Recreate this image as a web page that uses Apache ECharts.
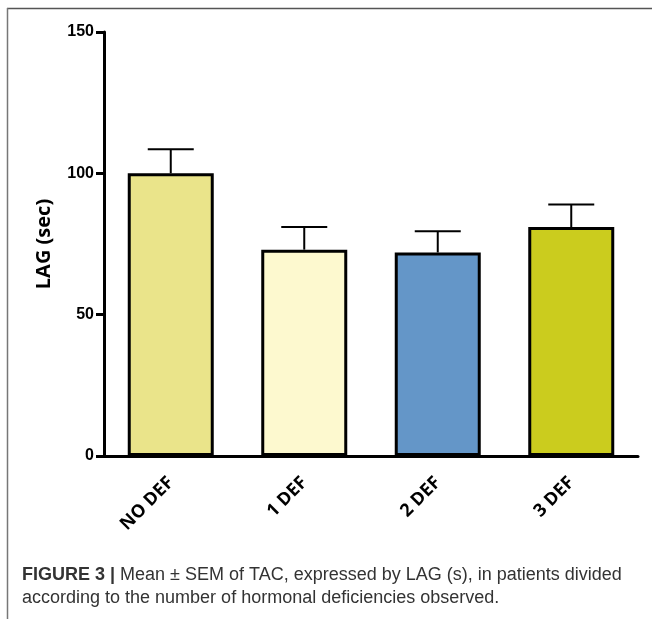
<!DOCTYPE html>
<html>
<head>
<meta charset="utf-8">
<script src="https://cdn.jsdelivr.net/npm/echarts@6/dist/echarts.min.js"></script>
<style>html,body{margin:0;padding:0;background:#fff}#c{width:652px;height:619px}</style>
</head>
<body>
<div id="c"></div>
<script>
var categories = ['NO DEF', '1 DEF', '2 DEF', '3 DEF'];
var means = [100, 73, 72, 81];
var sems = [8.5, 8, 7.5, 8];
var barColors = ['#EAE48A', '#FDF9CF', '#6496C8', '#CBCC1E'];
var yTicks = [0, 50, 100, 150];

var chart = echarts.init(document.getElementById('c'));
chart.setOption({
  animation: false,
  grid: { left: 104, right: 14, top: 32, bottom: 163, containLabel: false },
  xAxis: {
    type: 'category',
    data: categories,
    axisLine: { lineStyle: { color: '#000', width: 3 } },
    axisTick: { alignWithLabel: true, length: 7, lineStyle: { color: '#000', width: 3 } },
    axisLabel: { rotate: 45, margin: 24, color: '#000', fontFamily: 'Open Sans', fontWeight: 'bold', fontSize: 18 },
    splitLine: { show: false }
  },
  yAxis: {
    type: 'value',
    min: yTicks[0], max: yTicks[yTicks.length - 1], interval: 50,
    name: 'LAG (sec)',
    nameLocation: 'middle',
    nameGap: 50,
    nameTextStyle: { color: '#000', fontFamily: 'Open Sans', fontWeight: 'bold', fontSize: 20 },
    axisLine: { show: true, lineStyle: { color: '#000', width: 3 } },
    axisTick: { show: true, length: 8, lineStyle: { color: '#000', width: 3 } },
    axisLabel: { color: '#000', fontFamily: 'Liberation Sans', fontWeight: 'bold', fontSize: 16, margin: 10 },
    splitLine: { show: false }
  },
  series: [
    {
      type: 'bar',
      barWidth: 86,
      data: means.map(function (v, i) {
        return { value: v, itemStyle: { color: barColors[i], borderColor: '#000', borderWidth: 3 } };
      }),
      z: 2
    },
    {
      type: 'custom',
      z: 3,
      data: means.map(function (v, i) { return [i, v, v + sems[i]]; }),
      renderItem: function (params, api) {
        var x = api.value(0);
        var p0 = api.coord([x, api.value(1)]);
        var p1 = api.coord([x, api.value(2)]);
        var hw = 23;
        var st = { stroke: '#000', lineWidth: 2 };
        return {
          type: 'group',
          children: [
            { type: 'line', shape: { x1: p0[0], y1: p0[1], x2: p1[0], y2: p1[1] }, style: st },
            { type: 'line', shape: { x1: p1[0] - hw, y1: p1[1], x2: p1[0] + hw, y2: p1[1] }, style: st }
          ]
        };
      }
    }
  ],
  graphic: [
    { type: 'line', shape: { x1: 7, y1: 8.5, x2: 652, y2: 8.5 }, style: { stroke: '#555', lineWidth: 1.5 } },
    { type: 'line', shape: { x1: 7.5, y1: 8, x2: 7.5, y2: 619 }, style: { stroke: '#777', lineWidth: 1.5 } },
    {
      type: 'text', left: 22, top: 564,
      style: {
        text: '{b|FIGURE 3 |} Mean ± SEM of TAC, expressed by LAG (s), in patients divided\naccording to the number of hormonal deficiencies observed.',
        rich: {
          b: { fontWeight: 'bold', fontFamily: 'Liberation Sans', fontSize: 18, fill: '#333', lineHeight: 23 }
        },
        fontFamily: 'Liberation Sans', fontSize: 18, fill: '#333', lineHeight: 23
      }
    }
  ]
});
</script>
</body>
</html>
